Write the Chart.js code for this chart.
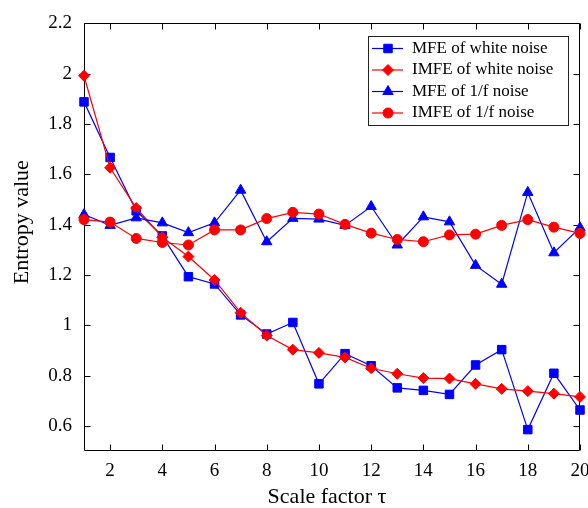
<!DOCTYPE html>
<html>
<head>
<meta charset="utf-8">
<script src="https://cdn.jsdelivr.net/npm/chart.js@4.4.1/dist/chart.umd.min.js"></script>
<style>
  html, body { margin: 0; padding: 0; background: #fff; }
</style>
</head>
<body>
<canvas id="myChart" width="588" height="508"></canvas>
<script>
const serif = "'Liberation Serif', 'Times New Roman', serif";

// Entropy of the two noise types over scale factors 1..20
const scaleFactor = [1, 2, 3, 4, 5, 6, 7, 8, 9, 10, 11, 12, 13, 14, 15, 16, 17, 18, 19, 20];
const mfeWhite = [1.888, 1.667, 1.455, 1.355, 1.193, 1.164, 1.041, 0.965, 1.011, 0.767,
                  0.887, 0.839, 0.751, 0.741, 0.725, 0.842, 0.903, 0.585, 0.809, 0.663];
const imfeWhite = [1.992, 1.626, 1.466, 1.350, 1.273, 1.180, 1.050, 0.959, 0.903, 0.890,
                   0.872, 0.829, 0.807, 0.790, 0.788, 0.767, 0.747, 0.738, 0.728, 0.715];
const mfePink = [1.440, 1.397, 1.427, 1.407, 1.368, 1.407, 1.537, 1.332, 1.425, 1.422,
                 1.397, 1.472, 1.319, 1.431, 1.411, 1.238, 1.163, 1.528, 1.288, 1.388];
const imfePink = [1.420, 1.410, 1.345, 1.329, 1.319, 1.379, 1.379, 1.424, 1.449, 1.442,
                  1.401, 1.366, 1.341, 1.332, 1.359, 1.362, 1.397, 1.420, 1.390, 1.365];

const xTicks = [2, 4, 6, 8, 10, 12, 14, 16, 18, 20];
const yTicks = [0.6, 0.8, 1, 1.2, 1.4, 1.6, 1.8, 2, 2.2];

const xTitle = 'Scale factor τ';
const yTitle = 'Entropy value';

const seriesNames = ['MFE of white noise', 'IMFE of white noise', 'MFE of 1/f noise', 'IMFE of 1/f noise'];
const seriesValues = [mfeWhite, imfeWhite, mfePink, imfePink];
const seriesColors = ['#0000ff', '#ff0000', '#0000ff', '#ff0000'];
const seriesMarkers = ['rect', 'rectRot', 'triangle', 'circle'];
const markerRadius = [6, 5.5, 6, 5];

const toPoints = (vals) => vals.map((v, i) => ({ x: scaleFactor[i], y: v }));

const datasets = seriesValues.map((vals, i) => ({
  label: seriesNames[i],
  data: toPoints(vals),
  borderColor: seriesColors[i],
  backgroundColor: seriesColors[i],
  borderWidth: 1.2,
  pointStyle: seriesMarkers[i],
  pointRadius: markerRadius[i],
  pointBorderWidth: 1,
  pointBackgroundColor: seriesColors[i],
  pointBorderColor: seriesColors[i],
  tension: 0,
  order: seriesValues.length - i  // later series sit on top
}));

// box round the plot with inward ticks on every side, plus axis titles
const axesBox = {
  id: 'axesBox',
  beforeDatasetsDraw(chart) {
    const { ctx, chartArea: a, scales: { x, y } } = chart;
    const L = Math.round(a.left) + 0.5, R = Math.round(a.right) - 0.5;
    const T = Math.round(a.top) + 0.5, B = Math.round(a.bottom) - 0.5;
    const len = 6;
    ctx.save();
    ctx.strokeStyle = '#000';
    ctx.lineWidth = 1;
    ctx.beginPath();
    ctx.rect(L, T, R - L, B - T);
    xTicks.forEach(v => {
      const px = Math.round(x.getPixelForValue(v)) + 0.5;
      ctx.moveTo(px, B); ctx.lineTo(px, B - len);
      ctx.moveTo(px, T); ctx.lineTo(px, T + len);
    });
    yTicks.forEach(v => {
      const py = Math.round(y.getPixelForValue(v)) + 0.5;
      ctx.moveTo(L, py); ctx.lineTo(L + len, py);
      ctx.moveTo(R, py); ctx.lineTo(R - len, py);
    });
    ctx.stroke();

    ctx.fillStyle = '#000';
    ctx.font = '22px ' + serif;
    ctx.textAlign = 'center';
    ctx.textBaseline = 'alphabetic';
    ctx.fillText(xTitle, (a.left + a.right) / 2 - 5, 503);
    ctx.translate(28, (a.top + a.bottom) / 2 - 15);
    ctx.rotate(-Math.PI / 2);
    ctx.fillText(yTitle, 0, 0);
    ctx.restore();
  }
};

// legend box in the top right corner, line sample with marker
const lineLegend = {
  id: 'lineLegend',
  afterDraw(chart) {
    const { ctx, chartArea: a } = chart;
    const left = Math.round(a.right) - 212, top = Math.round(a.top) + 13;
    const w = 200, h = 89;
    ctx.save();
    ctx.fillStyle = '#fff';
    ctx.fillRect(left, top, w, h);
    ctx.strokeStyle = '#222';
    ctx.lineWidth = 1;
    ctx.strokeRect(left + 0.5, top + 0.5, w, h);
    ctx.font = '17px ' + serif;
    ctx.textBaseline = 'middle';
    chart.data.datasets.forEach((ds, i) => {
      const cy = top + 12.5 + i * 21.5;
      ctx.strokeStyle = ds.borderColor;
      ctx.fillStyle = ds.borderColor;
      ctx.lineWidth = 1.2;
      ctx.beginPath();
      ctx.moveTo(left + 4, cy);
      ctx.lineTo(left + 35, cy);
      ctx.stroke();
      ctx.lineWidth = 1;
      Chart.helpers.drawPoint(ctx, {
        pointStyle: ds.pointStyle, rotation: 0, radius: ds.pointRadius, borderWidth: 1
      }, left + 20, cy);
      ctx.fillStyle = '#000';
      ctx.fillText(ds.label, left + 44, cy);
    });
    ctx.restore();
  }
};

const config = {
  type: 'line',
  data: { datasets },
  options: {
    responsive: false,
    animation: false,
    clip: false,
    layout: { padding: { top: 15, right: 8, left: 0, bottom: 0 } },
    plugins: { legend: { display: false }, tooltip: { enabled: false } },
    scales: {
      x: {
        type: 'linear', min: 1, max: 20,
        grid: { display: false, drawTicks: false },
        border: { display: false },
        afterBuildTicks: (s) => { s.ticks = xTicks.map(v => ({ value: v })); },
        afterFit: (s) => { s.height = 57; s.paddingLeft = 0; s.paddingRight = 0; },
        ticks: {
          color: '#000', font: { family: serif, size: 19 }, padding: 9,
          maxRotation: 0, autoSkip: false, callback: (v) => String(v)
        }
      },
      y: {
        type: 'linear', min: 0.5, max: 2.2,
        grid: { display: false, drawTicks: false },
        border: { display: false },
        afterBuildTicks: (s) => { s.ticks = yTicks.map(v => ({ value: v })); },
        afterFit: (s) => { s.width = 84; },
        ticks: {
          color: '#000', font: { family: serif, size: 19 }, padding: 12,
          autoSkip: false, callback: (v) => String(v)
        }
      }
    }
  },
  plugins: [axesBox, lineLegend]
};

const myChart = new Chart(document.getElementById('myChart'), config);
</script>
</body>
</html>
